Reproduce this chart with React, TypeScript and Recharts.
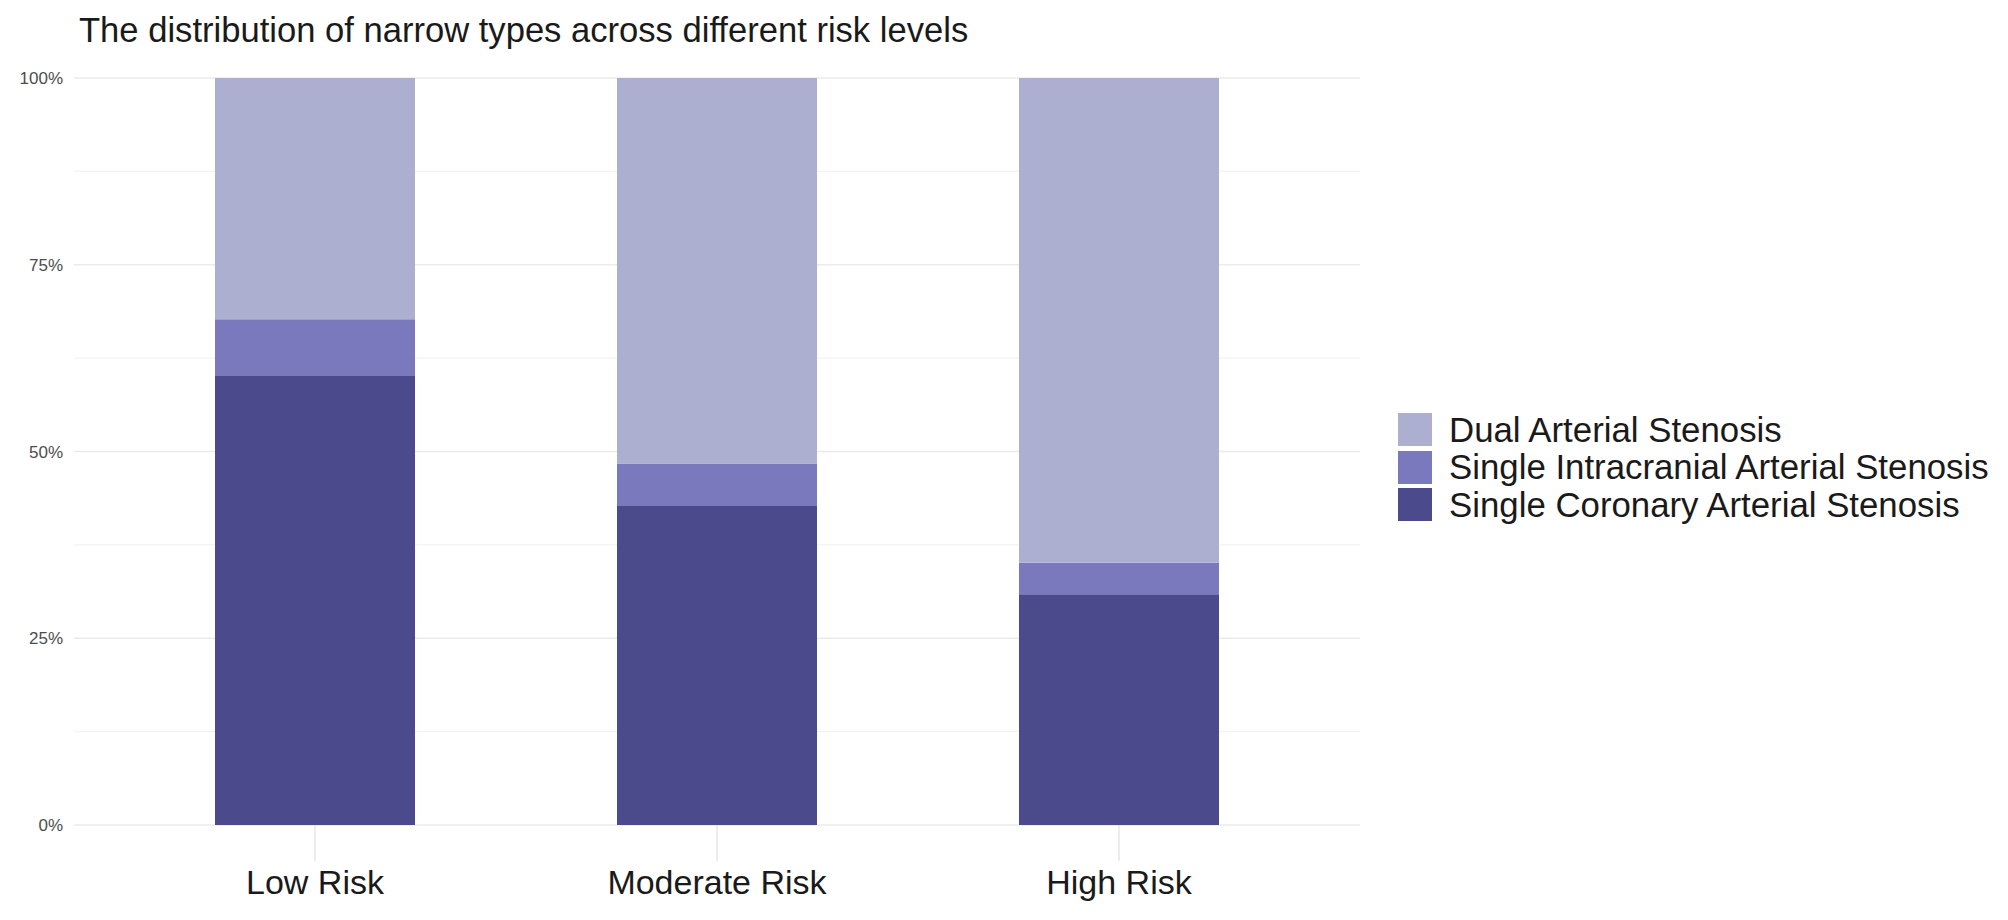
import { BarChart, Bar, XAxis, YAxis, CartesianGrid, Legend } from "recharts"

const RISK_LEVELS = ["Low Risk", "Moderate Risk", "High Risk"]

// share of each stenosis type per risk level (fractions of 1)
const CORONARY = [0.601, 0.427, 0.309]
const INTRACRANIAL = [0.076, 0.057, 0.042]
const DUAL = [0.323, 0.516, 0.649]

const Y_TICKS = [0, 0.25, 0.5, 0.75, 1]
const Y_MINOR = [0.125, 0.375, 0.625, 0.875]

const FONT = "'Liberation Sans', Arial, sans-serif"

// bottom of the stack first
const SERIES = [
  { key: "coronary", label: "Single Coronary Arterial Stenosis", color: "#4A4A8C", values: CORONARY },
  { key: "intracranial", label: "Single Intracranial Arterial Stenosis", color: "#7A79BD", values: INTRACRANIAL },
  { key: "dual", label: "Dual Arterial Stenosis", color: "#ADAFD0", values: DUAL },
]

const data = RISK_LEVELS.map((risk, i) => {
  const row: Record<string, string | number> = { risk }
  SERIES.forEach((s) => (row[s.key] = s.values[i]))
  return row
})

function LegendBox() {
  return (
    <div style={{ fontFamily: FONT }}>
      {[...SERIES].reverse().map((s) => (
        <div key={s.key} style={{ display: "flex", alignItems: "center", height: 37.5 }}>
          <span style={{ display: "inline-block", width: 34, height: 33, background: s.color }} />
          <span style={{ marginLeft: 17, fontSize: 34.8, color: "#1a1a1a", whiteSpace: "nowrap" }}>{s.label}</span>
        </div>
      ))}
    </div>
  )
}

export default function App() {
  return (
    <div style={{ position: "absolute", left: 0, top: 0, width: 2008, height: 920, background: "#fff" }}>
      <div
        style={{
          position: "absolute",
          left: 79,
          top: 13,
          fontFamily: FONT,
          fontSize: 34.6,
          lineHeight: "35px",
          color: "#1a1a1a",
          whiteSpace: "nowrap",
        }}
      >
        The distribution of narrow types across different risk levels
      </div>
      <BarChart
        width={2008}
        height={920}
        data={data}
        margin={{ top: 78, right: 648, bottom: 0, left: 0 }}
        barSize={200}
      >
        <CartesianGrid vertical={false} horizontalValues={Y_MINOR} stroke="#f3f3f3" strokeWidth={1.3} />
        <CartesianGrid vertical={false} stroke="#ebebeb" strokeWidth={1.6} />
        <XAxis
          dataKey="risk"
          padding={{ left: 40, right: 40 }}
          axisLine={false}
          tickSize={36}
          tickMargin={9}
          tickLine={{ stroke: "#e6e6e6", strokeWidth: 1.5 }}
          tick={{ fontSize: 34, fill: "#1a1a1a", fontFamily: FONT }}
          height={95}
        />
        <YAxis
          domain={[0, 1]}
          ticks={Y_TICKS}
          tickFormatter={(v) => `${Math.round(v * 100)}%`}
          width={74}
          axisLine={false}
          tickLine={false}
          tickSize={0}
          tickMargin={11}
          tick={{ fontSize: 17, fill: "#4d4d4d", fontFamily: FONT }}
        />
        <Legend
          layout="vertical"
          align="center"
          verticalAlign="middle"
          content={<LegendBox />}
          wrapperStyle={{ left: 1398, top: 411, width: 600 }}
        />
        {SERIES.map((s) => (
          <Bar key={s.key} dataKey={s.key} stackId="a" fill={s.color} name={s.label} isAnimationActive={false} />
        ))}
      </BarChart>
    </div>
  )
}
